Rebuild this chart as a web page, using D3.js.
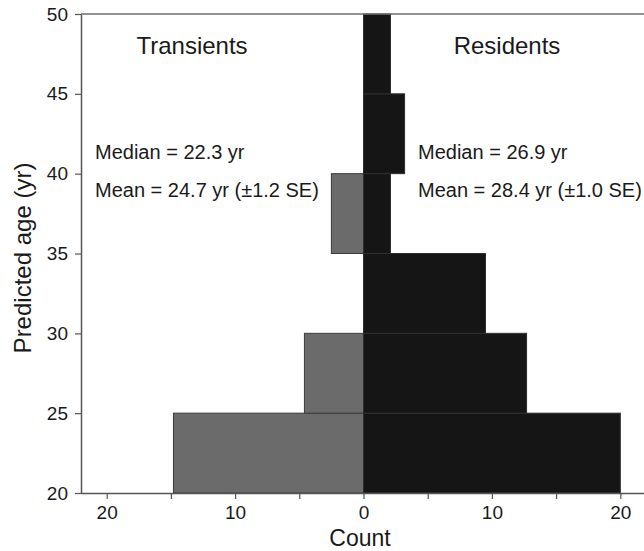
<!DOCTYPE html>
<html>
<head>
<meta charset="utf-8">
<script src="https://cdn.jsdelivr.net/npm/d3@7"></script>
<style>
  body { margin: 0; background: #fff; }
  svg text { font-family: "Liberation Sans", Arial, Helvetica, sans-serif; fill: #1a1a1a; }
</style>
</head>
<body>
<div id="chart"></div>
<script>
// Data: age bins (lower edge, 5 yr wide) and counts per group
const binStarts = [20, 25, 30, 35, 40, 45];
const binWidth = 5;
const transients = [14.8, 4.6, 0, 2.5, 0, 0];
const residents = [20, 12.7, 9.5, 2.1, 3.2, 2.1];
const countTicks = [-20, -15, -10, -5, 0, 5, 10, 15, 20];
const ageTicks = [20, 25, 30, 35, 40, 45, 50];
const groupTitles = ["Transients", "Residents"];
const statsTransients = ["Median = 22.3 yr", "Mean = 24.7 yr (±1.2 SE)"];
const statsResidents = ["Median = 26.9 yr", "Mean = 28.4 yr (±1.0 SE)"];

const W = 644, H = 551;
const plotLeft = 81, plotTop = 14, plotBottom = 493;

const svg = d3.select("#chart")
    .append("svg")
    .attr("width", W)
    .attr("height", H);

// Scales (right side runs past the window edge, like the original crop)
const x = d3.scaleLinear().domain([-22, 22]).range([plotLeft, 646]);
const y = d3.scaleLinear().domain([20, 50]).range([plotBottom, plotTop]);

// Bars
const tData = binStarts.map((b, i) => ({ b, v: transients[i] })).filter(d => d.v > 0);
const rData = binStarts.map((b, i) => ({ b, v: residents[i] })).filter(d => d.v > 0);

svg.selectAll(".bar-t")
    .data(tData)
    .enter()
    .append("rect")
    .attr("class", "bar-t")
    .attr("x", d => x(-d.v))
    .attr("y", d => y(d.b + binWidth))
    .attr("width", d => x(0) - x(-d.v))
    .attr("height", d => y(d.b) - y(d.b + binWidth))
    .attr("fill", "#6b6b6b")
    .attr("stroke", "#3a3a3a")
    .attr("stroke-width", 1);

svg.selectAll(".bar-r")
    .data(rData)
    .enter()
    .append("rect")
    .attr("class", "bar-r")
    .attr("x", x(0))
    .attr("y", d => y(d.b + binWidth))
    .attr("width", d => x(d.v) - x(0))
    .attr("height", d => y(d.b) - y(d.b + binWidth))
    .attr("fill", "#151515")
    .attr("stroke", "#2e2e2e")
    .attr("stroke-width", 1);

// Frame: top line
svg.append("line")
    .attr("x1", plotLeft).attr("x2", W)
    .attr("y1", plotTop).attr("y2", plotTop)
    .attr("stroke", "#6e6e6e")
    .attr("stroke-width", 1.5);

// Axes
const xAxis = svg.append("g")
    .attr("transform", `translate(0,${plotBottom})`)
    .call(d3.axisBottom(x)
        .tickValues(countTicks)
        .tickSize(6)
        .tickSizeOuter(0)
        .tickPadding(7)
        .tickFormat(d => d % 10 === 0 ? Math.abs(d) : ""));

xAxis.select(".domain").attr("d", `M${plotLeft},0.5H${W}`);

const yAxis = svg.append("g")
    .attr("transform", `translate(${plotLeft},0)`)
    .call(d3.axisLeft(y)
        .tickValues(ageTicks)
        .tickSize(6)
        .tickSizeOuter(0)
        .tickPadding(7));

svg.selectAll(".domain").attr("stroke", "#555").attr("stroke-width", 1.5);
svg.selectAll(".tick line").attr("stroke", "#555").attr("stroke-width", 1.2);
svg.selectAll(".tick text")
    .style("font-family", "'Liberation Sans', Arial, sans-serif")
    .style("font-size", "19px")
    .attr("fill", "#1a1a1a");

// Axis titles
svg.append("text")
    .attr("x", 360)
    .attr("y", 546)
    .attr("text-anchor", "middle")
    .style("font-size", "23px")
    .text("Count");

svg.append("text")
    .attr("transform", "translate(31,258) rotate(-90)")
    .attr("text-anchor", "middle")
    .style("font-size", "24px")
    .text("Predicted age (yr)");

// Group titles
svg.append("text")
    .attr("x", 192).attr("y", 54)
    .attr("text-anchor", "middle")
    .style("font-size", "24px")
    .text(groupTitles[0]);

svg.append("text")
    .attr("x", 507).attr("y", 54)
    .attr("text-anchor", "middle")
    .style("font-size", "24px")
    .text(groupTitles[1]);

// Summary stats
svg.selectAll(".stat-t")
    .data(statsTransients)
    .enter()
    .append("text")
    .attr("x", 95)
    .attr("y", (d, i) => 159 + i * 38)
    .style("font-size", "20px")
    .text(d => d);

svg.selectAll(".stat-r")
    .data(statsResidents)
    .enter()
    .append("text")
    .attr("x", 418)
    .attr("y", (d, i) => 159 + i * 38)
    .style("font-size", "20px")
    .text(d => d);
</script>
</body>
</html>
